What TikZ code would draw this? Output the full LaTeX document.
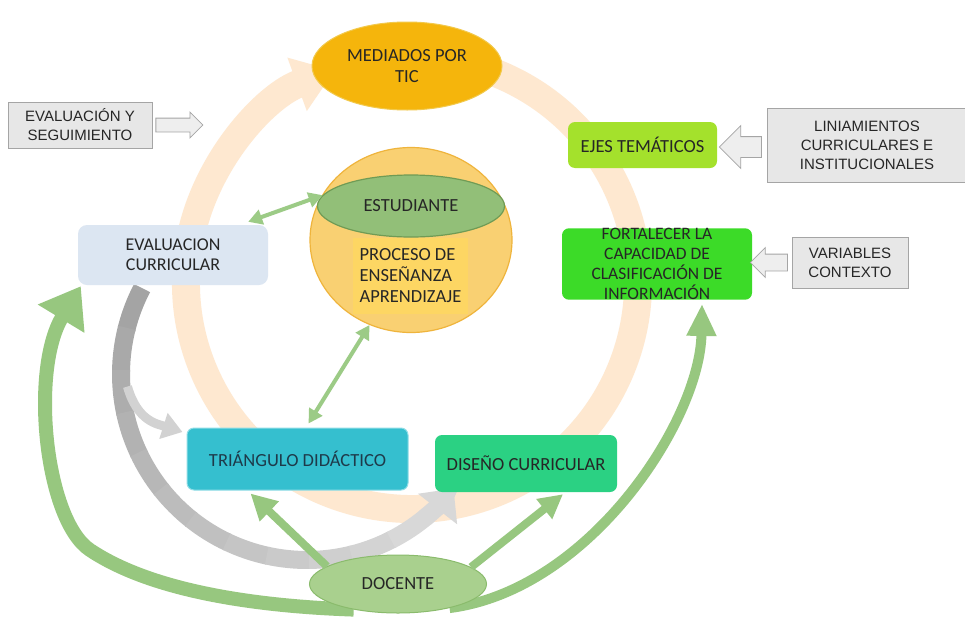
\documentclass[tikz,border=0pt]{standalone}
\usepackage{fontspec}
\setmainfont{Carlito}
\newfontfamily\arialfont{Liberation Sans}
\usetikzlibrary{arrows.meta,shapes.geometric,shapes.arrows,calc,backgrounds}

\definecolor{peach}{HTML}{FEE8D0}
\definecolor{medfill}{HTML}{F5B50C}
\definecolor{mededge}{HTML}{F2C94C}
\definecolor{circfill}{HTML}{F9D072}
\definecolor{circedge}{HTML}{EFB43C}
\definecolor{procfill}{HTML}{FDD663}
\definecolor{estfill}{HTML}{92BF78}
\definecolor{estedge}{HTML}{6F9B55}
\definecolor{evcfill}{HTML}{DCE6F2}
\definecolor{trifill}{HTML}{35BFCF}
\definecolor{triedge}{HTML}{8FDDE6}
\definecolor{tritxt}{HTML}{1E3A4A}
\definecolor{disfill}{HTML}{2BD183}
\definecolor{ejesfill}{HTML}{A4E12C}
\definecolor{fortfill}{HTML}{3CDB28}
\definecolor{docfill}{HTML}{A9D08E}
\definecolor{docedge}{HTML}{8ABB6C}
\definecolor{grn}{HTML}{97C77F}
\definecolor{grnlt}{HTML}{9CCB86}
\definecolor{boxfill}{HTML}{E7E7E7}
\definecolor{boxedge}{HTML}{A5A5A5}
\definecolor{arrfill}{HTML}{EEEEEE}
\definecolor{gA}{HTML}{A4A4A4}
\definecolor{gB}{HTML}{D8D8D8}
\definecolor{gbranch}{HTML}{D2D2D2}
\definecolor{txt}{HTML}{262626}

\begin{document}
\begin{tikzpicture}[x=1pt,y=-1pt,
  every node/.style={text=txt, align=center, font=\fontsize{18.5}{21}\selectfont},
  greybox/.style={draw=boxedge, fill=boxfill, line width=0.8pt, inner sep=0pt,
    font=\arialfont\fontsize{15}{19}\selectfont},
  rbox/.style={rounded corners=7pt, inner sep=0pt},
  oval/.style={ellipse, inner sep=0pt},
  blockarrow/.style={single arrow, draw=boxedge, fill=arrfill, line width=0.8pt,
    inner xsep=0pt, single arrow tip angle=90},
  link/.style={grn, line width=8pt},
  twoway/.style={grnlt, line width=4pt,
    {Triangle[width=15pt,length=14pt]}-{Triangle[width=15pt,length=14pt]}}
]
\useasboundingbox (0,0) rectangle (965,616);

% ---- nodes ----
\node[oval, fill=medfill, draw=mededge, line width=1pt,
  minimum width=190pt, minimum height=88pt] (med) at (407,66) {MEDIADOS POR\\TIC};

\node[greybox, minimum width=144pt, minimum height=46pt] (seg) at (80,125)
  {EVALUACIÓN Y\\SEGUIMIENTO};
\node[rbox, fill=ejesfill, minimum width=149pt, minimum height=46pt] (ejes) at (642.5,145)
  {EJES TEMÁTICOS};
\node[greybox, minimum width=200pt, minimum height=74pt] (lin) at (867,145)
  {LINIAMIENTOS\\CURRICULARES E\\INSTITUCIONALES};
\node[rbox, fill=fortfill, minimum width=190pt, minimum height=71pt,
  font=\fontsize{17.5}{20}\selectfont] (fort) at (657,264)
  {FORTALECER LA\\CAPACIDAD DE\\CLASIFICACIÓN DE\\INFORMACIÓN};
\node[greybox, minimum width=116pt, minimum height=51pt] (var) at (850,262.5)
  {VARIABLES\\CONTEXTO};

\node[rbox, fill=evcfill, rounded corners=9pt, minimum width=190pt, minimum height=60pt,
  font=\fontsize{18}{20}\selectfont] (evc) at (173,255) {EVALUACION\\CURRICULAR};

\node[oval, fill=circfill, draw=circedge, line width=1.2pt,
  minimum width=202pt, minimum height=185pt] (circ) at (411,240) {};
\node[fill=procfill, inner sep=0pt, minimum width=115pt, minimum height=76pt,
  align=left] (proc) at (410.5,276) {PROCESO DE\\ENSEÑANZA\\APRENDIZAJE};
\node[oval, fill=estfill, draw=estedge, line width=1.2pt,
  minimum width=187pt, minimum height=62pt] (est) at (411,206) {ESTUDIANTE};

\node[rbox, fill=trifill, draw=triedge, line width=1pt, text=tritxt,
  minimum width=221pt, minimum height=62pt] (tri) at (297.5,459) {TRIÁNGULO DIDÁCTICO};
\node[rbox, fill=disfill, minimum width=182pt, minimum height=57pt] (dis) at (526,463.5)
  {DISEÑO CURRICULAR};
\node[oval, fill=docfill, draw=docedge, line width=1pt,
  minimum width=177pt, minimum height=58pt] (doc) at (398,584) {DOCENTE};

% ---- wide flow arrows behind the nodes ----
\begin{scope}[on background layer]
  \fill[white] (0,0) rectangle (965,616);

  % cycle around the whole model, ending at MEDIADOS POR TIC
  \coordinate (pc) at (412,283);
  \draw[peach, line width=28pt, -{Triangle[width=54pt,length=40pt]}]
    ($(pc)+(-72:226)$) arc[start angle=-72, end angle=250, radius=226];

  % grey sweep from EVALUACION CURRICULAR down to DISEÑO CURRICULAR
  \coordinate (gc) at (307,374);
  \foreach \i in {0,...,11} {
    \pgfmathsetmacro\aa{207.5-\i*13.125}
    \pgfmathsetmacro\bb{\aa-13.6}
    \pgfmathsetmacro\pp{100-\i*100/11}
    \colorlet{segc}{gA!\pp!gB}
    \draw[segc, line width=18pt] ($(gc)+(\aa:186)$) arc[start angle=\aa, end angle=\bb, radius=186];
  }
  \coordinate (gend) at ($(gc)+(50.5:186)$);
  \draw[gB, line width=18pt, -{Triangle[width=48pt,length=26pt]}]
    (gend) arc[start angle=50.5, end angle=38, radius=186];

  % grey branch into TRIANGULO DIDACTICO
  \coordinate (gbr) at ($(gc)+(176:180)$);
  \draw[gbranch, line width=9pt, -{Triangle[width=26pt,length=20pt]}]
    (gbr) .. controls +(10,35) and +(-25,-8) .. ([xshift=-4pt,yshift=27pt]tri.west);

  % DOCENTE feeds back to EVALUACION CURRICULAR and FORTALECER
  \coordinate (lbend) at (90,550);
  \draw[grn, line width=14pt, -{Triangle[width=52pt,length=38pt]}]
    (doc.210) .. controls (250,606) and (150,590) .. (lbend)
    .. controls (45,520) and (30,370) .. ([xshift=3pt,yshift=-1pt]evc.south west);
  \draw[grn, line width=10pt, -{Triangle[width=28pt,length=32pt]}]
    (doc.-25) .. controls (590,590) and (700,420) .. ([xshift=45pt,yshift=-4pt]fort.south);
\end{scope}

% ---- outlined block arrows from the context boxes ----
\node[blockarrow, minimum height=47pt, minimum width=25pt, inner ysep=6.5pt,
  single arrow head extend=6pt] (segarr) at ($(seg.east)+(23.5,0)$) {};
\node[blockarrow, shape border rotate=180, minimum height=42pt, minimum width=42pt,
  inner ysep=10pt, single arrow head extend=11pt] (linarr) at ($(lin.west)+(-21,2)$) {};
\node[blockarrow, shape border rotate=180, minimum height=37pt, minimum width=29pt,
  inner ysep=8pt, single arrow head extend=6.5pt] (vararr) at ($(var.west)+(-18.5,0)$) {};

% ---- green connectors ----
\draw[twoway] ([xshift=-20pt,yshift=3pt]evc.north east) -- (est.173);
\draw[twoway] (circ.244) -- ([xshift=11pt,yshift=4pt]tri.north);
\draw[link, -{Triangle[width=26pt,length=26pt]}] (doc.166) -- ([xshift=-47pt,yshift=-3pt]tri.south);
\draw[link, -{Triangle[width=24pt,length=24pt]}] (doc.13) -- ([xshift=37pt,yshift=-2pt]dis.south);
\end{tikzpicture}
\end{document}
